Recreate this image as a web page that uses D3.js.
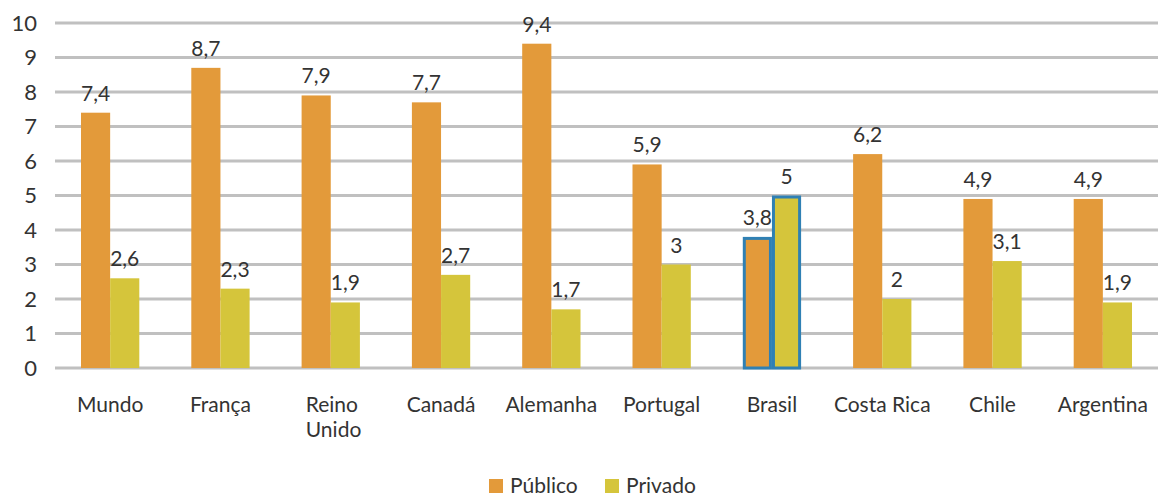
<!DOCTYPE html>
<html>
<head>
<meta charset="utf-8">
<script src="https://cdn.jsdelivr.net/npm/d3@7"></script>
<style>
  body { margin: 0; background: #fff; }
  text { font-family: Lato, "Open Sans", sans-serif; fill: #333; }
</style>
</head>
<body>
<div id="chart"></div>
<script>
(function () {
    'use strict';

    const categories = ['Mundo', 'França', 'Reino Unido', 'Canadá', 'Alemanha', 'Portugal', 'Brasil', 'Costa Rica', 'Chile', 'Argentina'];
    const publico = [7.4, 8.7, 7.9, 7.7, 9.4, 5.9, 3.8, 6.2, 4.9, 4.9];
    const privado = [2.6, 2.3, 1.9, 2.7, 1.7, 3, 5, 2, 3.1, 1.9];
    const seriesNames = ['Público', 'Privado'];
    const yTicks = [0, 1, 2, 3, 4, 5, 6, 7, 8, 9, 10];
    const highlight = 'Brasil';

    const colors = ['#e39a3a', '#d5c53b'];
    const W = 1158, H = 499;
    const margin = { top: 23, right: 0, bottom: 131, left: 55 };
    const width = W - margin.left - margin.right;
    const height = H - margin.top - margin.bottom;

    const svg = d3.select('#chart').append('svg').attr('width', W).attr('height', H)
        .append('g').attr('transform', 'translate(' + margin.left + ',' + margin.top + ')');

    const x0 = d3.scaleBand().domain(categories).range([0, width]).paddingInner(0).paddingOuter(0);
    const x1 = d3.scaleBand().domain(seriesNames).range([26, x0.bandwidth() - 26]);
    const y = d3.scaleLinear().domain([0, 10]).range([height, 0]);

    // grid
    svg.selectAll('.grid').data(yTicks).enter().append('line')
        .attr('x1', 0).attr('x2', width)
        .attr('y1', d => y(d)).attr('y2', d => y(d))
        .style('stroke', '#c0c0c0').style('stroke-width', 3);

    // y axis labels
    const yAxis = d3.axisLeft(y).tickValues(yTicks).tickSize(0).tickPadding(18).tickFormat(d3.format('d'));
    const ya = svg.append('g').call(yAxis);
    ya.select('.domain').remove();
    ya.selectAll('text').style('font-size', '22px').style('fill', '#333').style('font-family', 'Lato, sans-serif');

    const data = categories.map((c, i) => ({ cat: c, vals: [publico[i], privado[i]] }));

    const groups = svg.selectAll('.grp').data(data).enter().append('g')
        .attr('transform', d => 'translate(' + x0(d.cat) + ',0)');

    groups.each(function (d) {
        const g = d3.select(this);
        const isHi = d.cat === highlight;
        d.vals.forEach(function (v, k) {
            const bx = x1(seriesNames[k]);
            g.append('rect')
                .attr('x', bx + (isHi ? 1.5 : 0)).attr('y', y(v) + (isHi ? 1.5 : 0))
                .attr('width', x1.bandwidth() - (isHi ? 3 : 0))
                .attr('height', y(0) - y(v) - (isHi ? 1.5 : 0))
                .style('fill', colors[k])
                .style('stroke', isHi ? '#2f80b4' : 'none')
                .style('stroke-width', isHi ? 3 : 0);
            g.append('text')
                .attr('x', bx + x1.bandwidth() / 2)
                .attr('y', y(v) - 12)
                .attr('text-anchor', 'middle')
                .style('font-size', '21px')
                .text(String(v).replace('.', ','));
        });
    });

    // x labels
    groups.append('text')
        .attr('x', x0.bandwidth() / 2)
        .attr('y', height + 44)
        .attr('text-anchor', 'middle')
        .style('font-size', '21px')
        .each(function (d) {
            const words = d.cat === 'Reino Unido' ? ['Reino', 'Unido'] : [d.cat];
            const t = d3.select(this);
            words.forEach(function (w, i) {
                t.append('tspan')
                    .attr('x', words.length > 1 ? x0.bandwidth() / 2 - 25 : x0.bandwidth() / 2)
                    .attr('dy', i === 0 ? 0 : 25)
                    .attr('text-anchor', words.length > 1 ? 'start' : 'middle')
                    .text(w);
            });
        });

    // legend
    const legend = d3.select('svg').append('g').attr('transform', 'translate(489,479)');
    const legX = [0, 116];
    seriesNames.forEach(function (s, k) {
        legend.append('rect').attr('x', legX[k]).attr('y', 0).attr('width', 14).attr('height', 14).style('fill', colors[k]);
        legend.append('text').attr('x', legX[k] + 21).attr('y', 14).style('font-size', '21px').text(s);
    });
}());
</script>
</body>
</html>
